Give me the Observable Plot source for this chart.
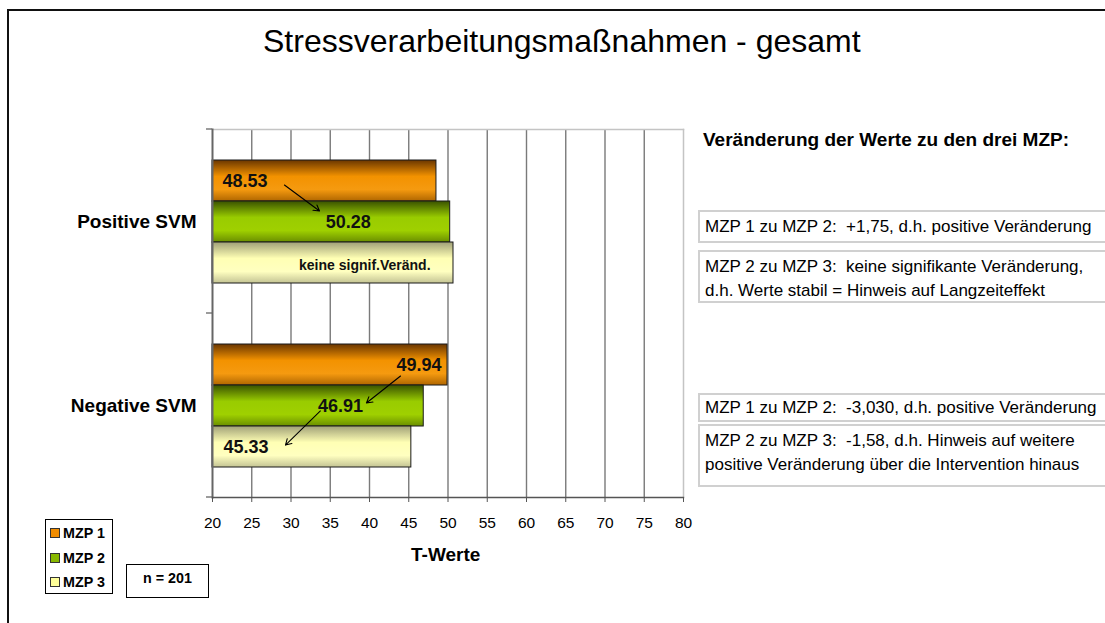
<!DOCTYPE html>
<html><head><meta charset="utf-8">
<script src="https://cdn.jsdelivr.net/npm/d3@7"></script>
<script src="https://cdn.jsdelivr.net/npm/@observablehq/plot@0.6"></script>
<style>
body{margin:0;background:#fff;font-family:"Liberation Sans",Arial,sans-serif;color:#000;}
#page{position:relative;width:1105px;height:623px;overflow:hidden;background:#fff;}
#frame{position:absolute;left:7px;top:9px;width:1130px;height:650px;border-left:2px solid #111;border-top:2px solid #111;}
#title{position:absolute;left:263px;top:23px;font-size:32px;white-space:nowrap;}
#chart{position:absolute;left:0;top:100px;}
#xlabel{position:absolute;left:411px;top:544px;font-size:19px;font-weight:bold;white-space:nowrap;}
#heading{position:absolute;left:703px;top:129px;font-size:19px;font-weight:bold;white-space:nowrap;}
.box{position:absolute;left:698px;width:430px;border:2px solid #d0d0d0;font-size:17px;line-height:24px;padding:3px 0 0 5px;box-sizing:border-box;white-space:nowrap;}
#legend{position:absolute;left:45px;top:519px;width:68px;height:75px;border:1px solid #000;box-sizing:border-box;font-size:14.3px;font-weight:bold;}
.lg{position:absolute;left:4px;height:16px;line-height:16px;white-space:nowrap;}
.sw{display:inline-block;width:8px;height:8px;border:1px solid #333;margin-right:3px;vertical-align:0px;}
#nbox{position:absolute;left:126px;top:564px;width:83px;height:34px;border:1px solid #000;box-sizing:border-box;font-size:14.3px;font-weight:bold;text-align:center;padding-top:5px;}
g[aria-label="fy-axis tick label"]{font:bold 19px "Liberation Sans",Arial,sans-serif;}
g[aria-label="x-axis tick label"]{font:15.5px "Liberation Sans",Arial,sans-serif;}
</style>
</head><body>
<div id="page">
  <div id="frame"></div>
  <div id="title"></div>
  <div id="chart"></div>
  <div id="xlabel"></div>
  <div id="heading"></div>
  <div id="boxes"></div>
  <div id="legend"></div>
  <div id="nbox"></div>
</div>
<script>
const titleText = "Stressverarbeitungsmaßnahmen - gesamt";
const axisTitle = "T-Werte";
const categories = ["Positive SVM", "Negative SVM"];
const series = ["MZP 1", "MZP 2", "MZP 3"];
const positiveValues = [48.53, 50.28, 50.7];
const negativeValues = [49.94, 46.91, 45.33];
const xTicks = [20, 25, 30, 35, 40, 45, 50, 55, 60, 65, 70, 75, 80];
const positiveLabels = ["48.53", "50.28", "keine signif.Veränd."];
const negativeLabels = ["49.94", "46.91", "45.33"];
// label anchor x (in T-Werte) and text anchor for each bar label
const positiveLabelAt = [21.27, 37.3, 39.4];
const negativeLabelAt = [49.17, 36.3, 21.4];
const positiveLabelAnchor = ["start", "middle", "middle"];
const negativeLabelAnchor = ["end", "middle", "start"];
const headingText = "Veränderung der Werte zu den drei MZP:";
const noteTexts = [
  "MZP 1 zu MZP 2:&nbsp; +1,75, d.h. positive Veränderung",
  "MZP 2 zu MZP 3:&nbsp; keine signifikante Veränderung,<br>d.h. Werte stabil = Hinweis auf Langzeiteffekt",
  "MZP 1 zu MZP 2:&nbsp; -3,030, d.h. positive Veränderung",
  "MZP 2 zu MZP 3:&nbsp; -1,58, d.h. Hinweis auf weitere<br>positive Veränderung über die Intervention hinaus"
];
const sampleText = "n = 201";

// gradient stops per series: [offset, color]
const gradientStops = {
  "MZP 1": [[0, "#6a3600"], [0.4, "#f39200"], [0.72, "#f59a10"], [1, "#b06600"]],
  "MZP 2": [[0, "#3a5200"], [0.4, "#99cc00"], [0.72, "#9fd000"], [1, "#6a8e00"]],
  "MZP 3": [[0, "#a0a078"], [0.4, "#ffffb4"], [0.72, "#ffffc0"], [1, "#c4c494"]]
};
const legendColors = {"MZP 1": "#f08c00", "MZP 2": "#88b800", "MZP 3": "#ffff99"};

const rows = [];
categories.forEach((c, ci) => {
  const vals = ci === 0 ? positiveValues : negativeValues;
  const labs = ci === 0 ? positiveLabels : negativeLabels;
  const at = ci === 0 ? positiveLabelAt : negativeLabelAt;
  const anc = ci === 0 ? positiveLabelAnchor : negativeLabelAnchor;
  series.forEach((s, si) => rows.push({category: c, series: s, value: vals[si], label: labs[si], at: at[si], anchor: anc[si]}));
});

// arrow anchors in data units (T-Werte), from band centre to band centre
const arrowAnchors = [
  {category: "Positive SVM", from: "MZP 1", to: "MZP 2", x1: 28.48, x2: 35.52},
  {category: "Negative SVM", from: "MZP 1", to: "MZP 2", x1: 45.72, x2: 39.13},
  {category: "Negative SVM", from: "MZP 2", to: "MZP 3", x1: 34.39, x2: 29.04}
];
const arrowInsets = [[6.7, 18.4], [17.7, 4.8], [7.1, 2.8]];

const gradId = s => "g" + s.replace(/\s/g, "");
const font = "Liberation Sans, Arial, sans-serif";
const numeric = rows.filter(d => d.label.length < 8);

const chart = Plot.plot({
  width: 700, height: 470,
  marginLeft: 212, marginRight: 17, marginTop: 29, marginBottom: 73,
  style: {fontFamily: font, background: "transparent", overflow: "visible"},
  x: {domain: [20, 80]},
  y: {domain: series, paddingInner: 0, paddingOuter: 0.72, axis: null},
  fy: {domain: categories, padding: 0},
  marks: [
    Plot.ruleX(xTicks.slice(1, -1), {stroke: "#7a7a7a", strokeWidth: 1.4}),
    Plot.frame({facet: "super", anchor: "top", stroke: "#c4c4c4", strokeWidth: 1.5}),
    Plot.frame({facet: "super", anchor: "right", stroke: "#c4c4c4", strokeWidth: 1.5}),
    ...series.map(s => Plot.barX(rows.filter(d => d.series === s), {
      x1: 20, x2: "value", y: "series", fy: "category",
      fill: `url(#${gradId(s)})`, stroke: "#1a1a1a", strokeWidth: 1
    })),
    Plot.frame({facet: "super", anchor: "left", stroke: "#666", strokeWidth: 2}),
    Plot.frame({facet: "super", anchor: "bottom", stroke: "#555", strokeWidth: 1.3}),
    Plot.axisX({ticks: xTicks, tickSize: 5, tickPadding: 14, label: null, stroke: "#555"}),
    Plot.axisFy({anchor: "left", label: null, tickSize: 0, tickPadding: 16}),
    ...["start", "middle", "end"].map(a => Plot.text(numeric.filter(d => d.anchor === a), {
      x: "at", y: "series", fy: "category", text: "label", textAnchor: a,
      fontSize: 18, fontWeight: "bold", fill: "#111"
    })),
    Plot.text(rows.filter(d => d.label.length >= 8), {
      x: "at", y: "series", fy: "category", text: "label", dy: 3,
      fontSize: 14, fontWeight: "bold", fill: "#111"
    }),
    ...arrowAnchors.map((a, i) => Plot.arrow([a], {
      x1: "x1", x2: "x2", y1: "from", y2: "to", fy: "category",
      stroke: "#000", strokeWidth: 1.1, headLength: 9,
      insetStart: arrowInsets[i][0], insetEnd: arrowInsets[i][1]
    }))
  ]
});

// gradients
const defs = d3.select(chart).insert("defs", ":first-child");
series.forEach(s => {
  const g = defs.append("linearGradient").attr("id", gradId(s))
    .attr("x1", 0).attr("y1", 0).attr("x2", 0).attr("y2", 1);
  gradientStops[s].forEach(([o, c]) => g.append("stop").attr("offset", o).attr("stop-color", c));
});

// boundary ticks on the category axis (via the library's scales)
const fy = chart.scale("fy"), xs = chart.scale("x");
const x0 = xs.apply(20);
const bounds = categories.map(c => fy.apply(c)).concat([fy.apply(categories[1]) + fy.bandwidth]);
d3.select(chart).append("g").selectAll("line").data(bounds).join("line")
  .attr("x1", x0 - 6).attr("x2", x0).attr("y1", d => d).attr("y2", d => d)
  .attr("stroke", "#666").attr("stroke-width", 1.3);

document.getElementById("chart").appendChild(chart);
document.getElementById("title").textContent = titleText;
document.getElementById("xlabel").textContent = axisTitle;
document.getElementById("heading").textContent = headingText;

const boxTops = [[210, 33], [250, 53], [393, 29], [424, 63]];
const boxes = document.getElementById("boxes");
noteTexts.forEach((t, i) => {
  const d = document.createElement("div");
  d.className = "box";
  d.style.top = boxTops[i][0] + "px";
  d.style.height = boxTops[i][1] + "px";
  if (i === 2) d.style.paddingTop = "1px";
  d.innerHTML = t;
  boxes.appendChild(d);
});

const legend = document.getElementById("legend");
series.forEach((s, i) => {
  const d = document.createElement("div");
  d.className = "lg";
  d.style.top = (5 + i * 24.5) + "px";
  d.innerHTML = `<span class="sw" style="background:${legendColors[s]}"></span>${s}`;
  legend.appendChild(d);
});
document.getElementById("nbox").textContent = sampleText;
</script>
</body></html>
